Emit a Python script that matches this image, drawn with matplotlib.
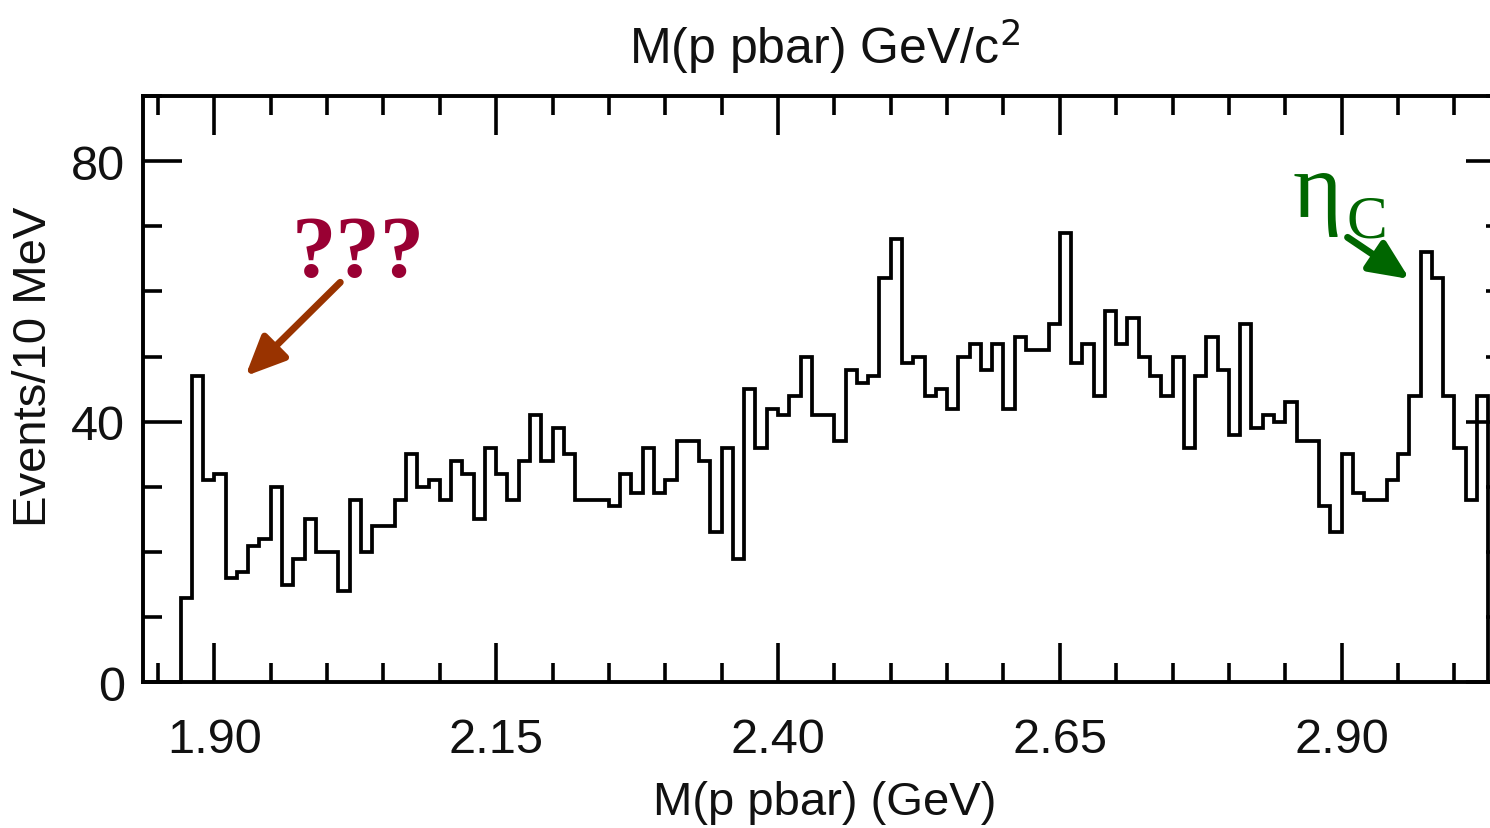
import numpy as np
import matplotlib
matplotlib.use("Agg")
from matplotlib import pyplot as plt
from matplotlib.ticker import MultipleLocator, FixedLocator

# events per 10 MeV bin, starting at 1.87 GeV
counts = [
    13, 47, 31, 32, 16, 17, 21, 22, 30, 15,
    19, 25, 20, 20, 14, 28, 20, 24, 24, 28,
    35, 30, 31, 28, 34, 32, 25, 36, 32, 28,
    34, 41, 34, 39, 35, 28, 28, 28, 27, 32,
    29, 36, 29, 31, 37, 37, 34, 23, 36, 19,
    45, 36, 42, 41, 44, 50, 41, 41, 37, 48,
    46, 47, 62, 68, 49, 50, 44, 45, 42, 50,
    52, 48, 52, 42, 53, 51, 51, 55, 69, 49,
    52, 44, 57, 52, 56, 50, 47, 44, 50, 36,
    47, 53, 48, 38, 55, 39, 41, 40, 43, 37,
    37, 27, 23, 35, 29, 28, 28, 31, 35, 44,
    66, 62, 44, 36, 28, 44,
]
first_edge = 1.87
bin_width = 0.01
edges = first_edge + bin_width * np.arange(len(counts) + 1)

major_x = [1.90, 2.15, 2.40, 2.65, 2.90]
major_y = [0, 40, 80]

text_color = "#111111"
plt.rcParams["font.family"] = ["Liberation Sans", "DejaVu Sans"]

fig = plt.figure(figsize=(14.9, 8.29), dpi=100)
ax = fig.add_axes([0.0962, 0.1757, 0.9139, 0.7073])

ax.stairs(counts, edges, baseline=0, color="black", lw=2.7)

ax.set_xlim(1.837, 3.045)
ax.set_ylim(0, 90)

ax.xaxis.set_major_locator(FixedLocator(major_x))
ax.xaxis.set_minor_locator(MultipleLocator(0.05))
ax.yaxis.set_major_locator(FixedLocator(major_y))
ax.yaxis.set_minor_locator(MultipleLocator(10))
ax.set_xticklabels([f"{v:.2f}" for v in major_x])
ax.set_yticklabels([str(v) for v in major_y])

ax.tick_params(which="both", direction="in", top=True, right=True,
               width=2.6, colors="black", labelcolor=text_color)
ax.tick_params(which="major", length=28, labelsize=35)
ax.tick_params(axis="x", which="major", pad=25)
ax.tick_params(axis="y", which="major", pad=13)
ax.tick_params(which="minor", length=14)
for s in ax.spines.values():
    s.set_linewidth(2.8)

ax.set_xlabel("M(p pbar) (GeV)", fontsize=34, color=text_color, labelpad=13)
ax.set_ylabel("Events/10 MeV", fontsize=34, color=text_color)
ax.yaxis.set_label_coords(-0.064, 0.539)
ax.set_title(r"M(p pbar) GeV/c$^2$", fontsize=36, color=text_color, pad=24)

# annotations
ax.text(2.028, 65.6, "???", color="#990033", fontsize=64, fontweight="bold",
        family="Liberation Serif", ha="center", va="center")
ax.annotate("", xy=(1.9275, 47.0), xytext=(2.0117, 61.4),
            arrowprops=dict(arrowstyle="-|>,head_length=0.6,head_width=0.27",
                            mutation_scale=40, lw=5, color="#993300",
                            shrinkA=0, shrinkB=0))

ax.text(2.8566, 71.6, "η", color="#006600", fontsize=68,
        family="Liberation Serif", ha="left", va="baseline")
ax.text(2.9044, 68.45, "C", color="#006600", fontsize=44,
        family="Liberation Serif", ha="left", va="baseline")
ax.annotate("", xy=(2.9603, 61.9), xytext=(2.9053, 68.3),
            arrowprops=dict(arrowstyle="-|>,head_length=0.6,head_width=0.27",
                            mutation_scale=40, lw=5, color="#006600",
                            shrinkA=0, shrinkB=0))

fig.savefig("out.png", dpi=100)
